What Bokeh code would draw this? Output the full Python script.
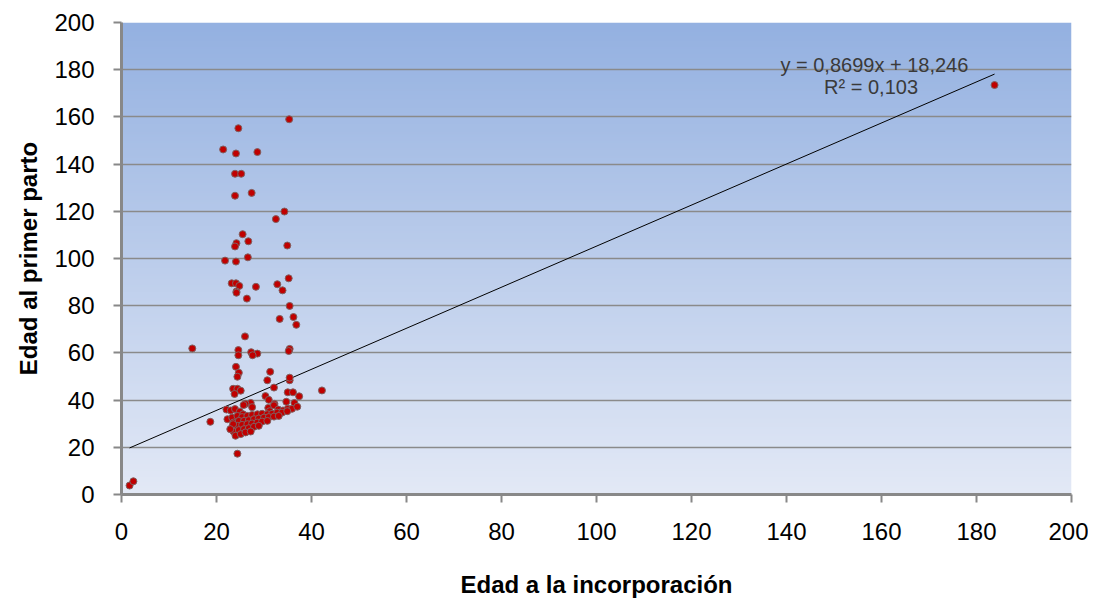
import numpy as np
from bokeh.plotting import figure
from bokeh.models import Range1d, FixedTicker, Label
from bokeh.embed import file_html
from bokeh.resources import INLINE

# --- data ---
edad_incorporacion = [
    1.7, 2.5, 14.9, 18.7, 183.8, 24.4,
    21.4, 24.6, 24.1, 28.6, 23.9, 25.2, 23.9, 27.4, 35.3, 34.3, 32.5,
    25.5, 24.2, 23.9, 26.7, 34.9, 21.8, 24.1, 26.6, 23.2, 24.1, 24.8, 24.2, 24.2,
    28.3, 32.8, 33.9, 35.2, 26.4, 35.4, 33.3, 36.2, 36.8,
    26.0, 24.6, 24.6, 27.3, 28.6, 27.6, 35.4, 35.2, 24.1, 24.7, 24.4, 31.3, 30.7,
    35.4, 35.4, 32.1, 23.5, 24.4, 25.1, 23.8, 42.2, 35.0, 36.1, 37.4, 30.3, 31.0,
    34.7, 36.4, 27.2, 26.1, 32.2,
    25.7, 27.5, 30.9, 32.1, 31.2, 33.0, 34.0, 35.0, 35.9, 37.0, 22.1, 23.0, 23.9,
    24.9, 25.6, 22.3,
    23.3, 24.4, 25.4, 26.5, 27.5, 28.6, 29.6, 30.7, 31.7, 32.8, 33.8, 34.9,
    23.6, 24.7, 25.8, 26.8, 27.9, 28.9, 30.0, 31.0, 32.1, 33.1,
    23.3, 24.4, 25.4, 26.5, 27.5, 28.6, 29.6, 30.7,
    23.6, 24.7, 25.8, 26.8, 27.9, 28.9,
    24.0, 25.1, 26.1, 27.2, 23.5, 22.9,
]
edad_primer_parto = [
    3.8, 5.6, 61.9, 30.8, 173.5, 17.3,
    146.2, 155.2, 144.5, 145.1, 135.9, 135.9, 126.6, 127.8, 159.0, 119.9, 116.7,
    110.3, 106.5, 105.1, 107.3, 105.5, 99.1, 98.7, 100.5, 89.5, 89.5, 88.4, 86.0, 85.5,
    88.0, 89.1, 86.5, 91.6, 83.0, 79.9, 74.4, 75.2, 71.9,
    67.0, 61.2, 59.0, 60.3, 59.7, 59.0, 61.7, 60.8, 54.1, 51.6, 49.9, 52.0, 48.4,
    48.4, 49.5, 45.3, 44.8, 44.8, 44.0, 42.6, 44.1, 43.3, 43.3, 41.6, 41.7, 40.1,
    39.3, 38.8, 38.8, 38.4, 38.4,
    37.9, 37.0, 36.7, 37.8, 35.3, 36.0, 35.6, 36.3, 36.3, 37.2, 36.0, 35.6, 36.2,
    35.1, 34.0, 31.9,
    32.6, 33.3, 32.8, 33.3, 33.7, 34.0, 34.2, 34.0, 34.2, 34.7, 34.7, 35.3,
    30.5, 31.2, 31.2, 31.5, 31.9, 32.2, 32.6, 32.8, 33.0, 33.3,
    28.4, 29.1, 29.5, 29.8, 30.1, 30.5, 30.9, 31.2,
    26.7, 27.3, 27.7, 28.1, 28.7, 29.1,
    24.9, 25.6, 26.3, 26.7, 29.8, 27.7,
]
pendiente = 0.8699
intercepto = 18.246
r2_texto = "R² = 0,103"
ecuacion_texto = "y = 0,8699x + 18,246"
ticks = [0, 20, 40, 60, 80, 100, 120, 140, 160, 180, 200]

FONT = "Liberation Sans"

p = figure(width=1088, height=600, output_backend="svg", toolbar_location=None,
           x_range=Range1d(0, 200), y_range=Range1d(0, 200),
           min_border_left=121, min_border_right=17, min_border_top=22,
           min_border_bottom=98)
p.outline_line_color = None
p.background_fill_color = "white"
p.border_fill_color = "white"

# gradient plot-area background
n = 256
top = np.array([0x94, 0xb1, 0xe1], dtype=float)
bot = np.array([0xe3, 0xe9, 0xf6], dtype=float)
t = np.linspace(0, 1, n)[:, None]
cols = bot * (1 - t) + top * t
img = np.empty((n, 1), dtype=np.uint32)
view = img.view(dtype=np.uint8).reshape((n, 1, 4))
view[:, 0, 0] = cols[:, 0].astype(np.uint8)
view[:, 0, 1] = cols[:, 1].astype(np.uint8)
view[:, 0, 2] = cols[:, 2].astype(np.uint8)
view[:, 0, 3] = 255
p.image_rgba(image=[img], x=0, y=0, dw=200, dh=200, level="image")

# grid
p.xgrid.grid_line_color = None
p.ygrid.grid_line_color = "#8a8a8a"
p.ygrid.grid_line_width = 1.5
p.ygrid.level = "underlay"

# axes
for ax in (p.xaxis[0], p.yaxis[0]):
    ax.ticker = FixedTicker(ticks=ticks)
    ax.axis_line_color = "#888888"
    ax.axis_line_width = 3
    ax.major_tick_line_color = "#888888"
    ax.major_tick_line_width = 2
    ax.major_tick_out = 8
    ax.major_tick_in = 0
    ax.minor_tick_line_color = None
    ax.major_label_text_font = FONT
    ax.major_label_text_font_size = "24px"
    ax.major_label_text_color = "black"
    ax.axis_label_text_font = FONT
    ax.axis_label_text_font_size = "24px"
    ax.axis_label_text_font_style = "bold"
    ax.axis_label_text_color = "black"

p.xaxis.axis_label = "Edad a la incorporación"
p.yaxis.axis_label = "Edad al primer parto"
p.xaxis.major_label_standoff = 20
p.yaxis.major_label_standoff = 19
p.xaxis.axis_label_standoff = 28
p.yaxis.axis_label_standoff = 9

# trend line
xmin, xmax = min(edad_incorporacion), max(edad_incorporacion)
p.line([xmin, xmax], [pendiente * xmin + intercepto, pendiente * xmax + intercepto],
       line_color="black", line_width=1)

# points
p.scatter(edad_incorporacion, edad_primer_parto, marker="circle", size=7,
          fill_color="#c00000", line_color="#806060", line_width=1)

# equation labels
p.add_layout(Label(x=158.5, y=182.2, text=ecuacion_texto, text_align="center",
                   text_baseline="middle", text_font=FONT, text_font_size="20px",
                   text_color="#3a3a3a"))
p.add_layout(Label(x=157.8, y=172.8, text=r2_texto, text_align="center",
                   text_baseline="middle", text_font=FONT, text_font_size="20px",
                   text_color="#3a3a3a"))

open("out.html", "w").write(file_html(p, INLINE))
